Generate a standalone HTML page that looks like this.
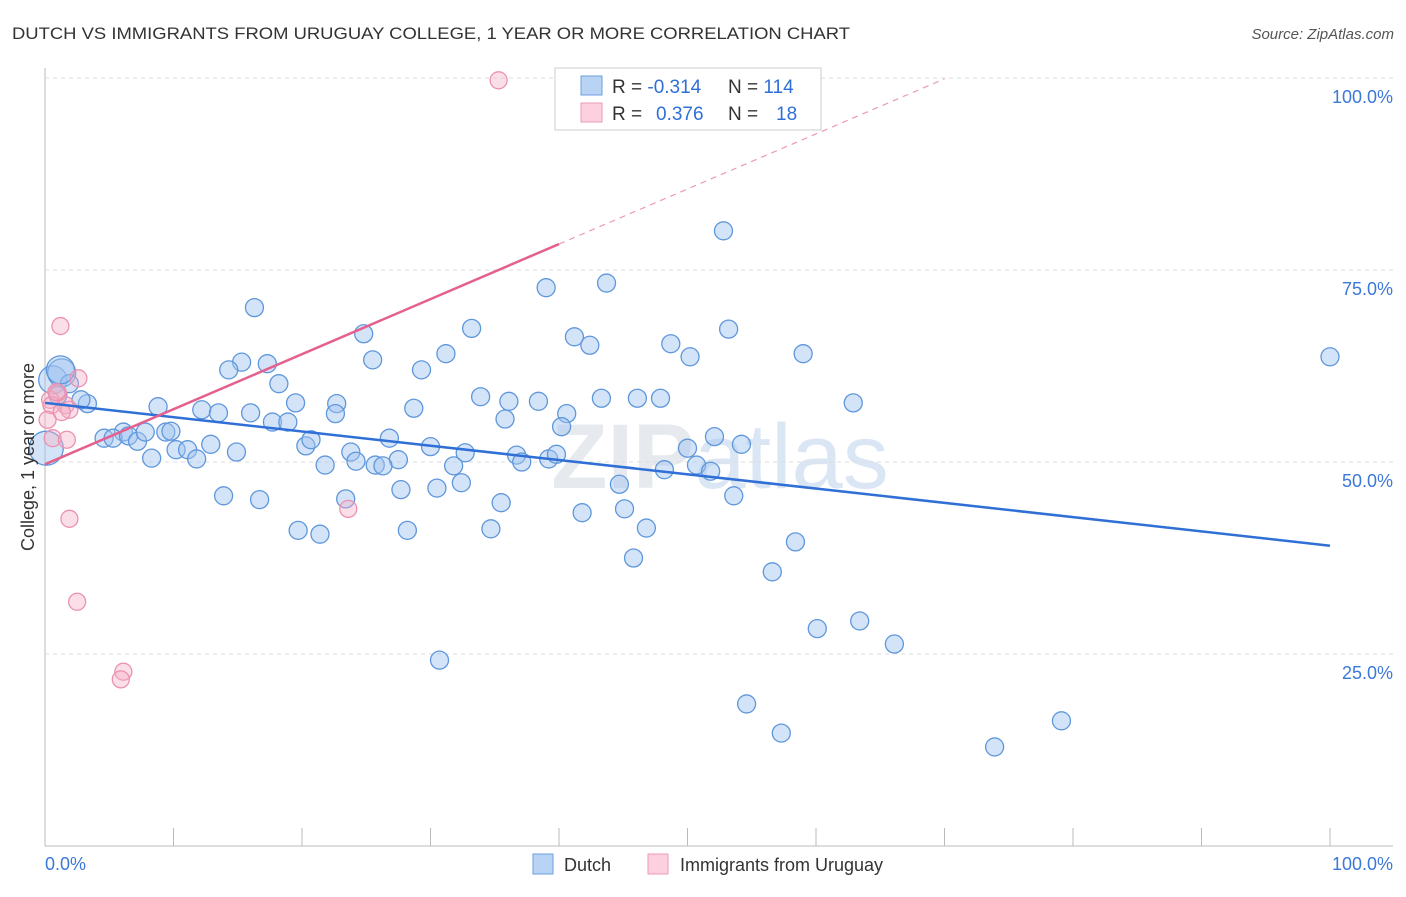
<!DOCTYPE html>
<html><head><meta charset="utf-8"><style>
body{margin:0;background:#fff;font-family:"Liberation Sans",sans-serif}
</style></head><body>
<svg id="c" width="1406" height="892" xmlns="http://www.w3.org/2000/svg" font-family="Liberation Sans, sans-serif">
<text x="12" y="39" font-size="17" fill="#333" textLength="838" lengthAdjust="spacingAndGlyphs">DUTCH VS IMMIGRANTS FROM URUGUAY COLLEGE, 1 YEAR OR MORE CORRELATION CHART</text>
<text x="1394" y="39" font-size="15" fill="#555" text-anchor="end" font-style="italic">Source: ZipAtlas.com</text>
<text x="720" y="488" font-size="92" fill="#e6e9ee" text-anchor="middle" font-weight="bold">ZIP<tspan font-weight="normal" fill="#dbe6f5">atlas</tspan></text>
<g id="grid"></g><g id="marks"></g><g id="lines"></g>
<text transform="translate(34,457) rotate(-90)" font-size="18" fill="#333" text-anchor="middle">College, 1 year or more</text>
<text x="45" y="870" font-size="18" fill="#3b78d8">0.0%</text>
<text x="1393" y="870" font-size="18" fill="#3b78d8" text-anchor="end">100.0%</text>
<g>
<rect x="555" y="68" width="266" height="62" fill="#fff" stroke="#ccc"/>
<rect x="581" y="76" width="21" height="19" fill="#b9d3f5" stroke="#6b9fe0"/>
<rect x="581" y="103" width="21" height="19" fill="#fcd0de" stroke="#ee9ab6"/>
<text x="612" y="93" font-size="19" fill="#333">R = <tspan fill="#2f6fd6">-0.314</tspan><tspan x="728">N = </tspan><tspan fill="#2f6fd6">114</tspan></text>
<text x="612" y="120" font-size="19" fill="#333">R = <tspan x="656" fill="#2f6fd6">0.376</tspan><tspan x="728">N = </tspan><tspan x="776" fill="#2f6fd6">18</tspan></text>
</g>
<g>
<rect x="533" y="854" width="20" height="20" fill="#b9d3f5" stroke="#6b9fe0"/>
<text x="564" y="871" font-size="18" fill="#333">Dutch</text>
<rect x="648" y="854" width="20" height="20" fill="#fcd0de" stroke="#ee9ab6"/>
<text x="680" y="871" font-size="18" fill="#333">Immigrants from Uruguay</text>
</g>
</svg>
<script>
const yTicks=[25,50,75,100];
const yTickLabels=["25.0%","50.0%","75.0%","100.0%"];
const xTicks=[0,10,20,30,40,50,60,70,80,90,100];
const blueX=[16.3,24.8,33.2,39.0,43.7,52.8,41.2,42.4,48.7,50.2,53.2,59.0,100,62.9,15.3,17.3,14.3,18.2,25.5,31.2,29.3,8.8,12.2,13.5,16.0,19.5,22.7,28.7,33.9,36.1,38.4,43.3,46.1,47.9,40.6,35.8,17.7,18.9,22.6,6.1,4.6,5.3,6.5,7.2,7.8,9.4,9.8,12.9,10.2,11.1,11.8,14.9,8.3,20.3,20.7,23.8,24.2,26.8,27.5,30.0,32.7,36.7,37.1,39.2,39.8,40.2,50.0,52.1,54.2,21.8,25.7,26.3,31.8,48.2,50.7,51.8,27.7,30.5,32.4,44.7,13.9,16.7,23.4,35.5,53.6,19.7,21.4,28.2,34.7,41.8,45.1,46.8,45.8,58.4,56.6,60.1,63.4,66.1,30.7,54.6,57.3,73.9,79.1,0.6,1.3,1.9,3.3,1.0,2.8,0.1,1.2];
const blueY=[70.1,66.7,67.4,72.7,73.3,80.1,66.3,65.2,65.4,63.7,67.3,64.1,63.7,57.7,63.0,62.8,62.0,60.2,63.3,64.1,62.0,57.2,56.8,56.4,56.4,57.7,57.6,57.0,58.5,57.9,57.9,58.3,58.3,58.3,56.3,55.6,55.2,55.2,56.3,53.9,53.1,53.1,53.4,52.7,53.9,53.9,54.0,52.3,51.6,51.6,50.4,51.3,50.5,52.1,52.9,51.3,50.1,53.1,50.3,52.0,51.2,50.9,50.0,50.4,51.0,54.6,51.8,53.3,52.3,49.6,49.6,49.5,49.5,49.0,49.6,48.8,46.4,46.6,47.3,47.1,45.6,45.1,45.2,44.7,45.6,41.1,40.6,41.1,41.3,43.4,43.9,41.4,37.5,39.6,35.7,28.3,29.3,26.3,24.2,18.5,14.7,12.9,16.3,60.7,61.6,60.2,57.6,58.7,58.1,51.8,62.0];
const pinkX=[35.3,1.2,2.6,1.0,0.4,1.6,1.9,0.6,1.7,1.9,2.5,6.1,5.9,23.6,0.5,1.3,0.9,0.2];
const pinkY=[99.7,67.7,60.9,59.0,58.1,57.4,56.8,53.1,52.9,42.6,31.8,22.7,21.7,43.9,57.4,56.5,59.1,55.5];
const blueTrend=[57.7,39.1];
const pinkTrend=[49.7,0.717];
const X=v=>45+v*12.85, Y=v=>846-v*7.68;
const NS="http://www.w3.org/2000/svg";
function mk(t,a,p){const e=document.createElementNS(NS,t);for(const k in a)e.setAttribute(k,a[k]);p.appendChild(e);return e;}
const grid=document.getElementById('grid'),marks=document.getElementById('marks'),lines=document.getElementById('lines');
let ax=mk('line',{x1:45,y1:68,x2:45,y2:846,stroke:'#bbb'},grid);


let bx=mk('line',{x1:45,y1:846,x2:1393,y2:846,stroke:'#bbb'},grid);


yTicks.forEach((t,i)=>{
 const g=mk('line',{x1:45,y1:Y(t),x2:1393,y2:Y(t),stroke:'#ddd','stroke-dasharray':'4,4'},grid);
 
 
 const l=mk('text',{x:1393,y:Y(t)+25,'font-size':18,fill:'#3b78d8','text-anchor':'end'},grid);
 l.textContent=yTickLabels[i];
 
 
});
xTicks.forEach(t=>{
 const k=mk('line',{x1:X(t),y1:828,x2:X(t),y2:846,stroke:'#bbb'},grid);
 
 
});
blueX.forEach((x,i)=>{
 const big=(x<1.5&&(blueY[i]<52||blueY[i]>60.5));
 const c=mk('circle',{cx:X(x),cy:Y(blueY[i]),r:big?(blueY[i]<52?17:14):9,fill:'rgba(160,196,240,0.45)',stroke:'#5f97dc','stroke-width':1.3},marks);
 
 
});
pinkX.forEach((x,i)=>{
 const c=mk('circle',{cx:X(x),cy:Y(pinkY[i]),r:8.5,fill:'rgba(246,175,198,0.4)',stroke:'#ec92b0','stroke-width':1.3},marks);
 
 
});
let bl=mk('line',{x1:X(0),y1:Y(blueTrend[0]),x2:X(100),y2:Y(blueTrend[1]),stroke:'#2f6fd6','stroke-width':2.5},lines);


let pl=mk('line',{x1:X(0),y1:Y(pinkTrend[0]),x2:X(40),y2:Y(pinkTrend[0]+40*pinkTrend[1]),stroke:'#e4608e','stroke-width':2.5},lines);


let pd=mk('line',{x1:X(40),y1:Y(pinkTrend[0]+40*pinkTrend[1]),x2:X(70),y2:Y(pinkTrend[0]+70*pinkTrend[1]),stroke:'#eb9ab5','stroke-width':1.2,'stroke-dasharray':'6,5'},lines);


</script>
</body></html>
